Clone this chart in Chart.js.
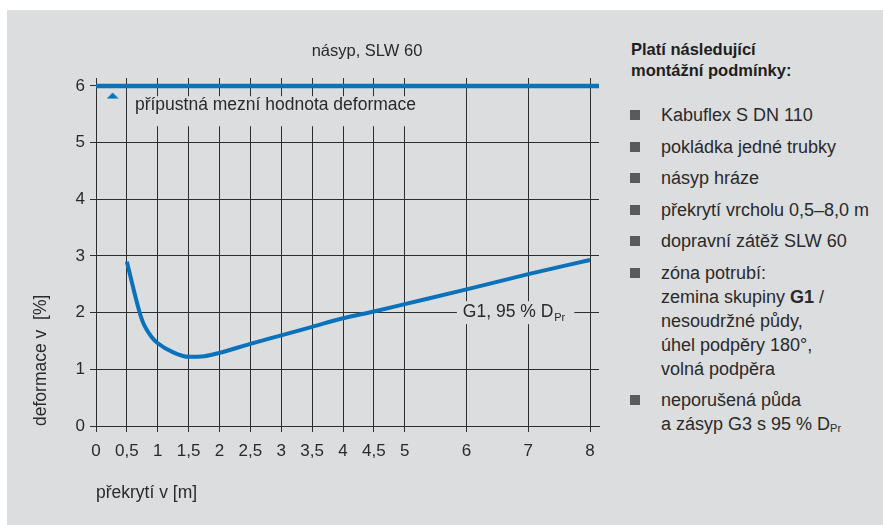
<!DOCTYPE html>
<html>
<head>
<meta charset="utf-8">
<script src="https://cdn.jsdelivr.net/npm/chart.js@4/dist/chart.umd.min.js"></script>
<style>
  html, body { margin: 0; padding: 0; background: #fff; }
  #frame { position: absolute; left: 7px; top: 10px; width: 876px; height: 515px; background: #dcdddf; overflow: hidden; }
  #plot { position: absolute; left: 0; top: 0; }
  #panel { position: absolute; left: 624px; top: 0; width: 252px; font-family: 'Liberation Sans', Arial, sans-serif; color: #2a2a2a; }
  #panel h3 { position: absolute; top: 29px; left: 0; margin: 0; font-size: 16.5px; line-height: 21px; font-weight: bold; color: #1e1e1e; white-space: nowrap; }
  #panel ul { position: absolute; top: 93px; left: 0; margin: 0; padding: 0; list-style: none; }
  #panel li { position: relative; padding-left: 30px; font-size: 18px; line-height: 24px; margin-bottom: 7.5px; white-space: nowrap; }
  #panel li::before { content: ''; position: absolute; left: -1px; top: 7px; width: 10px; height: 10px; background: #5a5a5a; }
  #panel sub { font-size: 11px; vertical-align: -2px; line-height: 0; }
</style>
</head>
<body>
<div id="frame">
  <canvas id="plot" width="620" height="515"></canvas>
  <div id="panel">
    <h3>Platí následující<br>montážní podmínky:</h3>
    <ul>
      <li>Kabuflex S DN 110</li>
      <li>pokládka jedné trubky</li>
      <li>násyp hráze</li>
      <li>překrytí vrcholu 0,5–8,0 m</li>
      <li>dopravní zátěž SLW 60</li>
      <li>zóna potrubí:<br>zemina skupiny <b>G1</b> /<br>nesoudržné půdy,<br>úhel podpěry 180°,<br>volná podpěra</li>
      <li>neporušená půda<br>a zásyp G3 s 95 % D<sub>Pr</sub></li>
    </ul>
  </div>
</div>
<script>
// data
const coverM = [0.5, 0.6, 0.7, 0.75, 0.8, 0.9, 1.0, 1.25, 1.5, 1.75, 2, 2.5, 3, 3.5, 4, 4.5, 5, 6, 7, 8];
const deformPct = [2.9, 2.45, 2.03, 1.86, 1.74, 1.57, 1.46, 1.3, 1.22, 1.23, 1.29, 1.45, 1.6, 1.75, 1.9, 2.02, 2.15, 2.41, 2.68, 2.93];
const xTicks = [0, 0.5, 1, 1.5, 2, 2.5, 3, 3.5, 4, 4.5, 5, 6, 7, 8];
const yTicks = [0, 1, 2, 3, 4, 5, 6];
const limitValue = 6;
const limitMarker = [0.27, 5.83];
const xMax = 8.145;
const yMax = 6.14;

const BLUE = '#0a72ba';
const BG = '#dcdddf';
const INK = '#2a2a2a';
const GRID = '#2e2e2e';
const FONT = "'Liberation Sans', Arial, sans-serif";

// flat triangle used as the marker under the limit line
const tri = document.createElement('canvas');
tri.width = 12; tri.height = 7;
(function () {
    const c = tri.getContext('2d');
    c.fillStyle = BLUE;
    c.beginPath();
    c.moveTo(0, 6.5); c.lineTo(6, 0.5); c.lineTo(12, 6.5);
    c.closePath();
    c.fill();
})();

const fmt = v => String(v).replace('.', ',');
const limitText = 'přípustná mezní hodnota deformace';

// texty v grafu
const annotations = {
    id: 'annotations',
    beforeDatasetsDraw(chart) {
        const { ctx, scales: { x, y } } = chart;
        ctx.save();
        ctx.fillStyle = BG;
        // box behind the limit label hides the grid
        ctx.font = '17.5px ' + FONT;
        const lx = x.getPixelForValue(0.63);
        const ly = y.getPixelForValue(5.66);
        ctx.fillRect(lx - 4, ly - 9, ctx.measureText(limitText).width + 10, 30);
        // box behind the G1 label
        const x0 = x.getPixelForValue(5.94);
        const w = ctx.measureText('G1, 95 % D').width;
        ctx.font = '11px ' + FONT;
        const w2 = ctx.measureText('Pr').width;
        ctx.fillRect(x0 - 6, y.getPixelForValue(2) - 11.5, w + w2 + 16, 23);
        ctx.restore();
    },
    afterDatasetsDraw(chart) {
        const { ctx, scales: { x, y } } = chart;
        ctx.save();
        ctx.fillStyle = INK;
        ctx.textBaseline = 'middle';

        ctx.font = '16.5px ' + FONT;
        ctx.textAlign = 'center';
        ctx.fillText('násyp, SLW 60', 360, 41);

        ctx.font = '17.5px ' + FONT;
        ctx.textAlign = 'left';
        ctx.fillText(limitText, x.getPixelForValue(0.63), y.getPixelForValue(5.66));

        const x0 = x.getPixelForValue(5.94);
        const yy = y.getPixelForValue(2);
        ctx.fillText('G1, 95 % D', x0, yy);
        const w = ctx.measureText('G1, 95 % D').width;
        ctx.font = '11px ' + FONT;
        ctx.fillText('Pr', x0 + w + 1, yy + 5);
        ctx.restore();
    }
};

new Chart(document.getElementById('plot'), {
    type: 'scatter',
    data: {
        datasets: [{
            label: 'G1, 95 % DPr',
            data: coverM.map((v, i) => ({ x: v, y: deformPct[i] })),
            showLine: true,
            borderColor: BLUE,
            borderWidth: 4,
            pointRadius: 0,
            cubicInterpolationMode: 'monotone'
        }, {
            label: limitText,
            data: [{ x: 0, y: limitValue }, { x: xMax, y: limitValue }],
            showLine: true,
            borderColor: BLUE,
            borderWidth: 4.5,
            pointRadius: 0
        }, {
            label: 'marker',
            data: [{ x: limitMarker[0], y: limitMarker[1] }],
            pointStyle: tri,
            pointRadius: 6
        }]
    },
    options: {
        responsive: false,
        animation: false,
        layout: { padding: { left: 0, right: 28, top: 68, bottom: 0 } },
        plugins: {
            legend: { display: false },
            tooltip: { enabled: false }
        },
        scales: {
            x: {
                type: 'linear',
                min: 0,
                max: xMax,
                afterBuildTicks: s => { s.ticks = xTicks.map(v => ({ value: v })); },
                afterFit: s => { s.height = 99; },
                ticks: {
                    callback: v => fmt(v),
                    autoSkip: false,
                    maxRotation: 0,
                    padding: 9,
                    color: INK,
                    font: { family: FONT, size: 17 }
                },
                grid: { color: GRID, tickLength: 6, lineWidth: 1 },
                border: { color: GRID },
                title: {
                    display: true,
                    text: 'překrytí v [m]',
                    align: 'start',
                    color: INK,
                    font: { family: FONT, size: 17.5 },
                    padding: { top: 0, bottom: 21 }
                }
            },
            y: {
                type: 'linear',
                min: 0,
                max: yMax,
                afterBuildTicks: s => { s.ticks = yTicks.map(v => ({ value: v })); },
                afterFit: s => { s.width = 89; },
                ticks: {
                    padding: 5,
                    color: INK,
                    font: { family: FONT, size: 17 }
                },
                grid: { color: GRID, tickLength: 6, lineWidth: 1 },
                border: { color: GRID },
                title: {
                    display: true,
                    text: 'deformace v  [%]',
                    align: 'start',
                    color: INK,
                    font: { family: FONT, size: 17.5 },
                    padding: { top: 24, bottom: 0 }
                }
            }
        }
    },
    plugins: [annotations]
});
</script>
</body>
</html>
